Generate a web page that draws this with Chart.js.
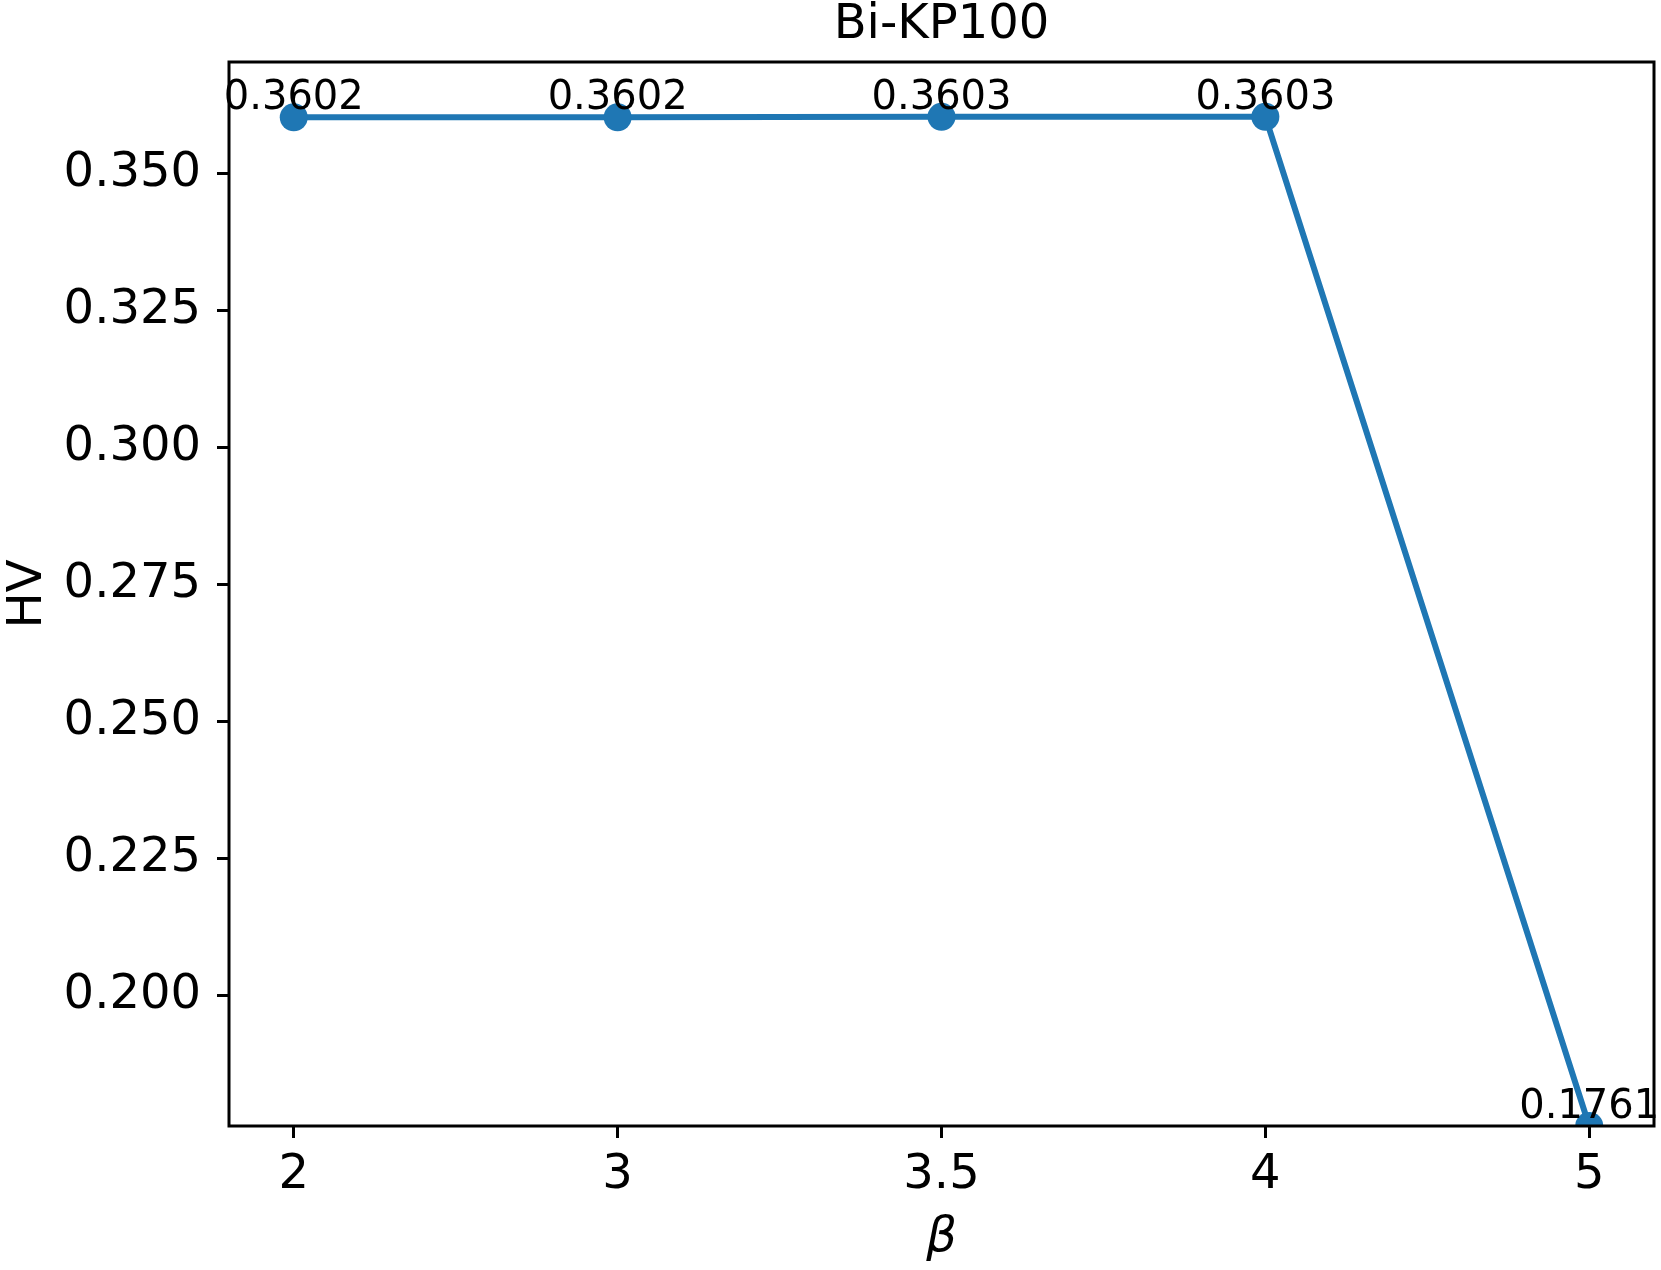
<!DOCTYPE html>
<html>
<head>
<meta charset="utf-8">
<script src="https://cdn.jsdelivr.net/npm/chart.js@4.4.0/dist/chart.umd.min.js"></script>
<style>
  html, body { margin: 0; padding: 0; background: #fff; }
</style>
</head>
<body>
<canvas id="lineChart" width="1661" height="1270"></canvas>
<script>
// HV vs beta for Bi-KP100
const betaLabels = ['2', '3', '3.5', '4', '5'];
const hvValues = [0.3602, 0.3602, 0.3603, 0.3603, 0.1761];
const yTicks = [0.200, 0.225, 0.250, 0.275, 0.300, 0.325, 0.350];
const chartTitle = 'Bi-KP100';

const blue = '#1f77b4';
const font = '"DejaVu Sans", sans-serif';

// frame around the plot, title centred on the plot, value labels over the points
const frameAndLabels = {
  id: 'frameAndLabels',
  afterDatasetsDraw(chart) {
    const { ctx, chartArea: a } = chart;
    ctx.save();
    ctx.strokeStyle = '#000';
    ctx.lineWidth = 3;
    ctx.strokeRect(a.left, a.top, a.right - a.left, a.bottom - a.top);
    ctx.fillStyle = '#000';
    ctx.textAlign = 'center';
    ctx.textBaseline = 'alphabetic';
    ctx.font = '48px ' + font;
    ctx.fillText(chartTitle, (a.left + a.right) / 2, 38);
    ctx.font = '40px ' + font;
    chart.getDatasetMeta(0).data.forEach((pt, i) => {
      ctx.fillText(hvValues[i].toFixed(4), pt.x, pt.y - 8);
    });
    ctx.restore();
  }
};

const ctx = document.getElementById('lineChart').getContext('2d');
new Chart(ctx, {
  type: 'line',
  data: {
    datasets: [{
      data: hvValues.map((v, i) => ({ x: i, y: v })),
      borderColor: blue,
      backgroundColor: blue,
      borderWidth: 6,
      pointRadius: 14,
      pointBorderWidth: 0,
      pointBackgroundColor: blue,
      tension: 0
    }]
  },
  options: {
    responsive: false,
    animation: false,
    events: [],
    layout: { autoPadding: false, padding: { left: 0, right: 7, top: 62, bottom: 0 } },
    plugins: {
      legend: { display: false },
      tooltip: { enabled: false },
      title: { display: false }
    },
    scales: {
      x: {
        type: 'linear',
        min: -0.2,
        max: 4.2,
        afterFit(s) { s.height = 144; },
        afterBuildTicks(s) { s.ticks = betaLabels.map((_, i) => ({ value: i })); },
        ticks: {
          color: '#000',
          font: { family: font, size: 48 },
          padding: 9,
          callback: (v) => betaLabels[v]
        },
        grid: { drawOnChartArea: false, drawTicks: true, tickLength: 12, tickWidth: 3, tickColor: '#000' },
        border: { display: false },
        title: {
          display: true,
          text: 'β',
          color: '#000',
          font: { family: font, size: 48, style: 'italic' },
          padding: { top: 0, bottom: 3 }
        }
      },
      y: {
        min: 0.1761,
        max: 0.3703,
        afterFit(s) { s.width = 229; },
        afterBuildTicks(s) { s.ticks = yTicks.map(v => ({ value: v })); },
        ticks: {
          color: '#000',
          font: { family: font, size: 48 },
          padding: 16,
          callback: (v) => v.toFixed(3)
        },
        grid: { drawOnChartArea: false, drawTicks: true, tickLength: 12, tickWidth: 3, tickColor: '#000' },
        border: { display: false },
        title: {
          display: true,
          text: 'HV',
          color: '#000',
          font: { family: font, size: 48 },
          padding: { top: 0, bottom: 0 }
        }
      }
    }
  },
  plugins: [frameAndLabels]
});
</script>
</body>
</html>
